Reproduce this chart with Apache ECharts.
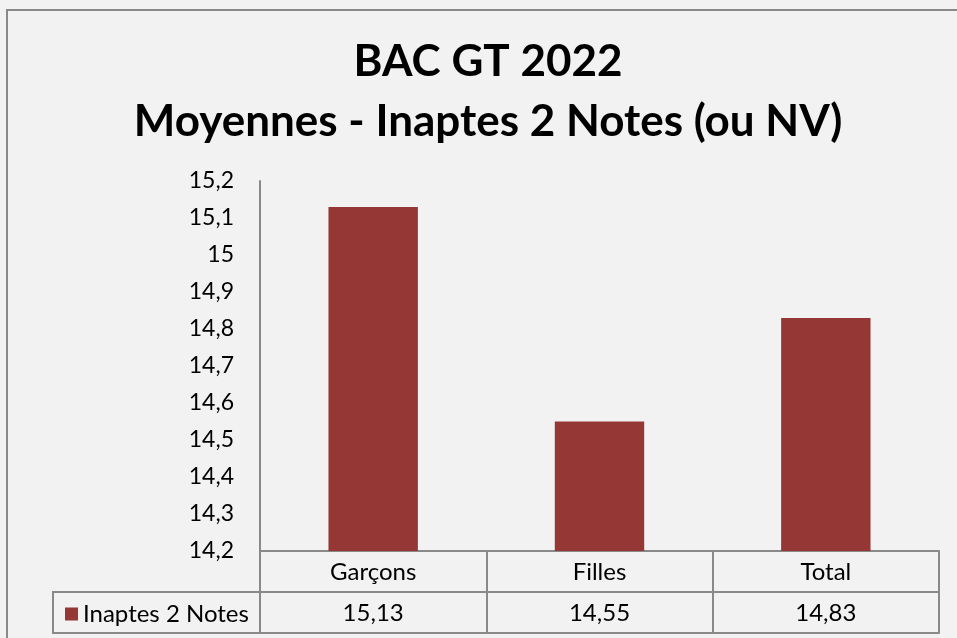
<!DOCTYPE html>
<html><head><meta charset="utf-8">
<script src="https://cdn.jsdelivr.net/npm/echarts@6/dist/echarts.min.js"></script>
<style>html,body{margin:0;padding:0;background:#f2f2f2;}#c{width:957px;height:638px;}</style>
</head><body><div id="c"></div>
<script>
var titleLines = ['BAC GT 2022', 'Moyennes - Inaptes 2 Notes (ou NV)'];
var categories = ['Garçons', 'Filles', 'Total'];
var seriesName = 'Inaptes 2 Notes';
var values = [15.13, 14.55, 14.83];
var yMin = 14.2, yMax = 15.2, yStep = 0.1;

var FONT = 'Lato';
var GRAY = '#898989';
var fmt = function (v) { return String(+v.toFixed(2)).replace('.', ','); };

var chart = echarts.init(document.getElementById('c'));
chart.setOption({
  backgroundColor: '#f2f2f2',
  animation: false,
  title: {
    text: titleLines.join('\n'),
    left: 488, top: 32, textAlign: 'center', padding: 0,
    textStyle: { fontFamily: FONT, fontWeight: 'bold', fontSize: 44, lineHeight: 60, color: '#000' }
  },
  legend: {
    left: 60, top: 597, itemWidth: 13, itemHeight: 13, itemGap: 0,
    icon: 'rect',
    textStyle: { fontFamily: FONT, fontSize: 24, color: '#000', padding: [0, 0, 0, 0] },
    data: [seriesName]
  },
  grid: { left: 260, right: 18, top: 181, bottom: 87 },
  yAxis: {
    type: 'value', min: yMin, max: yMax, interval: yStep,
    axisLine: { show: true, lineStyle: { color: GRAY, width: 2 } },
    axisTick: { show: false },
    splitLine: { show: false },
    axisLabel: { fontFamily: FONT, fontSize: 23, color: '#000', margin: 26, formatter: fmt }
  },
  xAxis: [
    {
      type: 'category', data: categories, position: 'bottom',
      axisLine: { show: true, onZero: false, lineStyle: { color: GRAY, width: 2 } },
      axisTick: { show: true, interval: 0, length: 82, lineStyle: { color: GRAY, width: 2 } },
      axisLabel: { fontFamily: FONT, fontSize: 24, color: '#000', margin: 9 }
    },
    {
      type: 'category', data: values.map(fmt), position: 'bottom', offset: 41,
      axisLine: { show: true, onZero: false, lineStyle: { color: GRAY, width: 2 } },
      axisTick: { show: false },
      axisLabel: { fontFamily: FONT, fontSize: 24, color: '#000', margin: 9 }
    },
    {
      type: 'category', data: categories, position: 'bottom', offset: 82,
      axisLine: { show: true, onZero: false, lineStyle: { color: GRAY, width: 2 } },
      axisTick: { show: false },
      axisLabel: { show: false }
    }
  ],
  series: [{
    name: seriesName, type: 'bar', data: values, xAxisIndex: 0,
    barWidth: '39.5%',
    itemStyle: { color: '#953735' }
  }],
  graphic: [
    { type: 'rect', shape: { x: 7, y: 10, width: 1000, height: 700 }, style: { fill: 'none', stroke: GRAY, lineWidth: 2 }, silent: true },
    { type: 'rect', shape: { x: 53, y: 592, width: 207, height: 41 }, style: { fill: 'none', stroke: GRAY, lineWidth: 2 }, silent: true }
  ]
});
</script></body></html>
